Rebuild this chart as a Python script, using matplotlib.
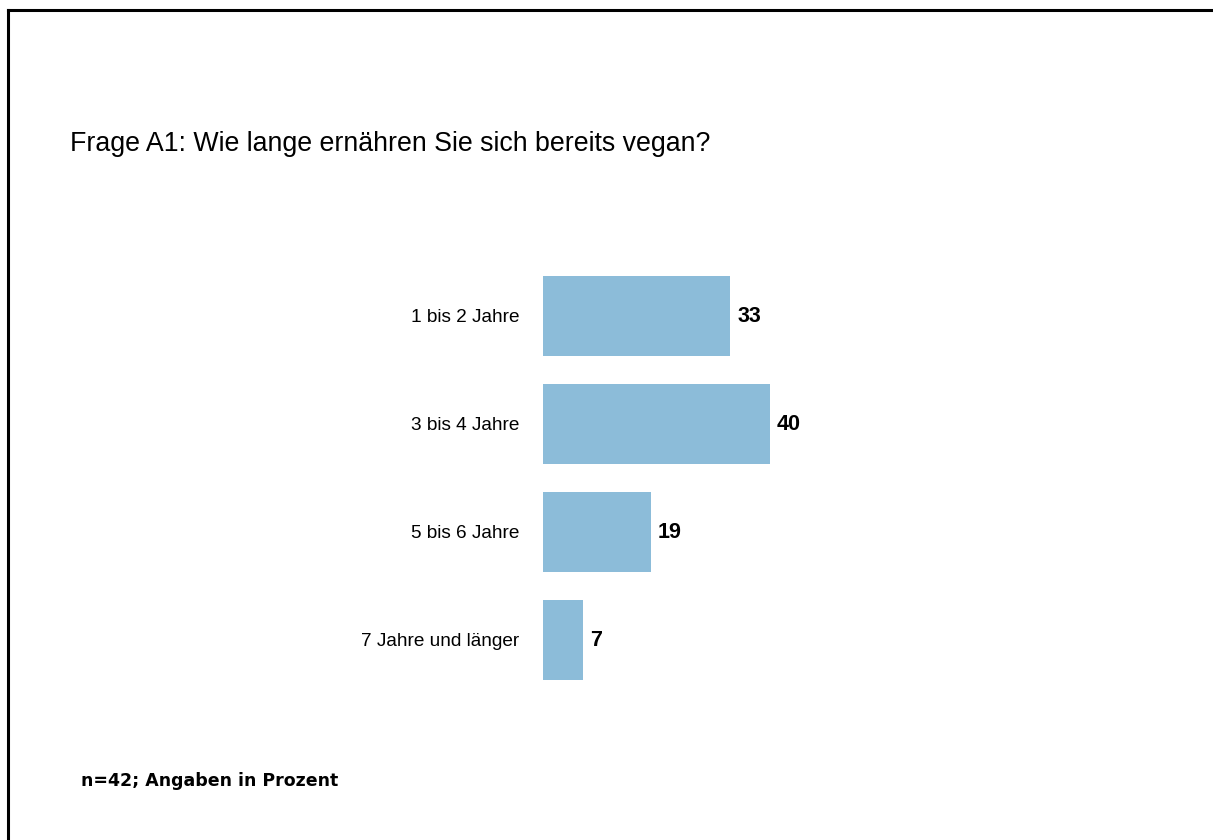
import matplotlib.pyplot as plt
from matplotlib.lines import Line2D

categories = ['1 bis 2 Jahre', '3 bis 4 Jahre', '5 bis 6 Jahre', '7 Jahre und länger']
values = [33, 40, 19, 7]

plt.rcParams['font.family'] = ['Liberation Sans', 'DejaVu Sans']

fig = plt.figure(figsize=(12.13, 8.4), dpi=100)
W, H = 1213, 840

# axes placed so bars start at x=543 px, rows span y=262..694 px
ax = fig.add_axes([543 / W, (H - 694) / H, 567 / W, 432 / H])
pos = list(range(len(categories)))
ax.barh(pos, values, height=0.74, color='#8cbcd9')
ax.set_xlim(0, 100)
ax.set_ylim(len(categories) - 0.5, -0.5)

for p, v in zip(pos, values):
    ax.annotate(str(v), (v, p), xytext=(5, 0), textcoords='offset points',
                ha='left', va='center', fontsize=15.5, fontweight='bold')

ax.set_yticks(pos)
ax.set_yticklabels(categories, fontsize=13.7)
ax.tick_params(axis='y', length=0, pad=17)
ax.set_xticks([])
for s in ax.spines.values():
    s.set_visible(False)

fig.text(70 / W, 1 - 144 / H, 'Frage A1: Wie lange ernähren Sie sich bereits vegan?',
         fontsize=19.3, ha='left', va='center')
fig.text(81 / W, 1 - 781 / H, 'n=42; Angaben in Prozent', family='DejaVu Sans',
         fontsize=12.5, fontweight='bold', ha='left', va='center')

# frame lines on top and left only
fig.add_artist(Line2D([8 / W, 1], [1 - 10 / H, 1 - 10 / H], color='black', lw=2.2))
fig.add_artist(Line2D([8 / W, 8 / W], [0, 1 - 10 / H], color='black', lw=2.2))

fig.savefig('out.png', dpi=100, facecolor='white')
